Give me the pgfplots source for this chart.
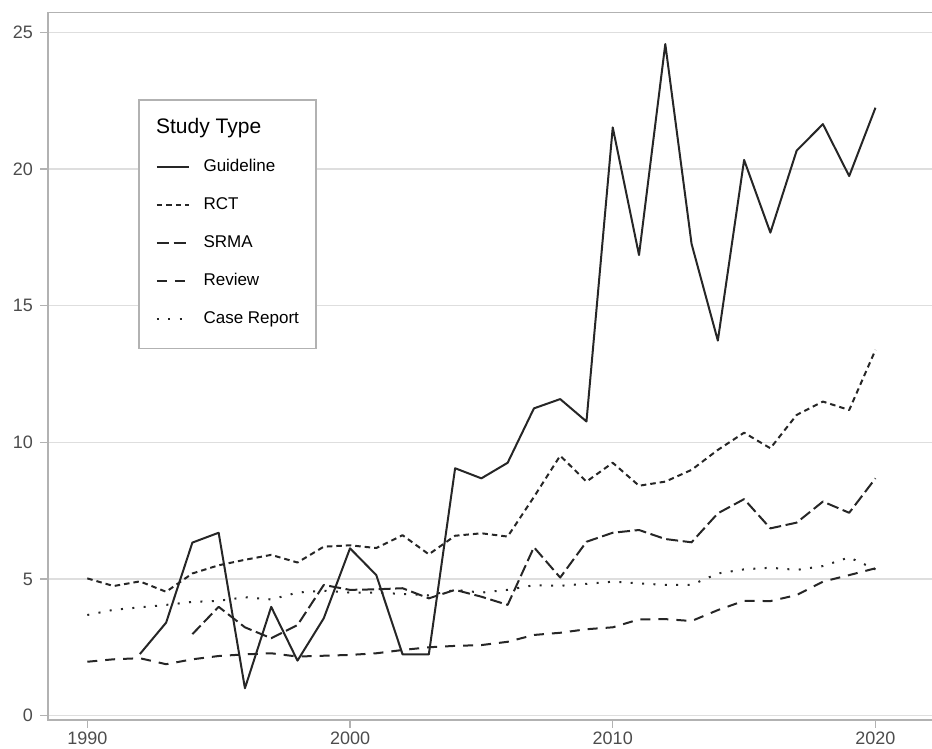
\documentclass[border=0pt]{standalone}
\usepackage{fontspec}
\setmainfont{Liberation Sans}
\usepackage{pgfplots}
\pgfplotsset{compat=1.18}
\usepackage{pgfplotstable}

\pgfplotstableread{
year val
1992 2.25
1993 3.40
1994 6.33
1995 6.69
1996 1.00
1997 3.98
1998 2.01
1999 3.56
2000 6.12
2001 5.14
2002 2.24
2003 2.24
2004 9.05
2005 8.68
2006 9.25
2007 11.24
2008 11.58
2009 10.76
2010 21.52
2011 16.85
2012 24.57
2013 17.26
2014 13.72
2015 20.33
2016 17.67
2017 20.67
2018 21.64
2019 19.74
2020 22.24
}\guideline

\pgfplotstableread{
year val
1990 5.02
1991 4.74
1992 4.91
1993 4.53
1994 5.20
1995 5.50
1996 5.70
1997 5.88
1998 5.60
1999 6.18
2000 6.23
2001 6.13
2002 6.60
2003 5.90
2004 6.58
2005 6.67
2006 6.55
2007 8.00
2008 9.51
2009 8.56
2010 9.25
2011 8.41
2012 8.56
2013 8.99
2014 9.72
2015 10.35
2016 9.78
2017 11.00
2018 11.49
2019 11.18
2020 13.38
}\rct

\pgfplotstableread{
year val
1994 2.98
1995 3.98
1996 3.23
1997 2.83
1998 3.31
1999 4.78
2000 4.60
2001 4.62
2002 4.66
2003 4.29
2004 4.60
2005 4.35
2006 4.05
2007 6.16
2008 5.05
2009 6.36
2010 6.69
2011 6.79
2012 6.46
2013 6.34
2014 7.40
2015 7.92
2016 6.85
2017 7.06
2018 7.83
2019 7.42
2020 8.68
}\srma

\pgfplotstableread{
year val
1990 1.97
1991 2.06
1992 2.10
1993 1.88
1994 2.06
1995 2.18
1996 2.24
1997 2.28
1998 2.16
1999 2.19
2000 2.22
2001 2.28
2002 2.40
2003 2.50
2004 2.55
2005 2.58
2006 2.70
2007 2.95
2008 3.03
2009 3.16
2010 3.23
2011 3.52
2012 3.53
2013 3.46
2014 3.86
2015 4.20
2016 4.19
2017 4.41
2018 4.90
2019 5.14
2020 5.39
}\review

\pgfplotstableread{
year val
1990 3.68
1991 3.87
1992 3.96
1993 4.05
1994 4.16
1995 4.20
1996 4.33
1997 4.25
1998 4.50
1999 4.57
2000 4.50
2001 4.50
2002 4.45
2003 4.40
2004 4.60
2005 4.50
2006 4.60
2007 4.77
2008 4.75
2009 4.82
2010 4.90
2011 4.84
2012 4.78
2013 4.78
2014 5.20
2015 5.35
2016 5.41
2017 5.33
2018 5.47
2019 5.79
2020 5.35
}\casereport

\begin{document}
\begin{tikzpicture}
\begin{axis}[
    scale only axis,
    width=442.5pt, height=353.65pt,
    xmin=1988.504, xmax=2022.19,
    ymin=-0.161, ymax=25.717,
    xtick={1990,2000,2010,2020},
    ytick={0,5,...,25},
    xtick pos=bottom, ytick pos=left,
    tick align=outside,
    major tick length=4pt,
    tick style={black!30, line width=0.75pt},
    axis line style={black!30, line width=0.75pt},
    ymajorgrids,
    grid style={black!13, line width=0.75pt},
    /pgf/number format/assume math mode=true,
    /pgf/number format/1000 sep={},
    tick label style={font=\fontsize{9}{10}\selectfont, text=black!70},
    xticklabel style={inner sep=1.8pt},
    every axis plot/.append style={black!85, line width=1pt, line join=round},
    legend image code/.code={\draw[#1] (0pt,0pt) -- (15.8pt,0pt);},
    legend cell align=left,
    legend style={at={(0.1018,0.878)}, anchor=north west,
        draw=black!30, line width=0.85pt, fill=white,
        inner xsep=8.5pt, inner ysep=10.5pt,
        row sep=10.7pt, column sep=7pt,
        nodes={inner sep=0pt, text height=6.3pt, text depth=2pt, anchor=west},
        font=\fontsize{8.5}{10}\selectfont},
]
\coordinate (sw) at (rel axis cs:0,0);
\coordinate (nw) at (rel axis cs:0,1);
\addlegendimage{empty legend}
\addlegendentry{\hspace*{-23.7pt}\fontsize{10.5}{12}\selectfont Study Type}
\addplot[solid] table[x=year, y=val] {\guideline};
\addlegendentry{Guideline}
\addplot[dash pattern=on 2.75pt off 2pt] table[x=year, y=val] {\rct};
\addlegendentry{RCT}
\addplot[dash pattern=on 6pt off 2.3pt] table[x=year, y=val] {\srma};
\addlegendentry{SRMA}
\addplot[dash pattern=on 5pt off 4pt] table[x=year, y=val] {\review};
\addlegendentry{Review}
\addplot[dash pattern=on 1pt off 4.7pt] table[x=year, y=val] {\casereport};
\addlegendentry{Case Report}
\end{axis}
\pgfresetboundingbox
\path ([shift={(-24pt,-14.3pt)}]sw) rectangle ([shift={(442pt,6.35pt)}]nw);
\end{tikzpicture}
\end{document}
